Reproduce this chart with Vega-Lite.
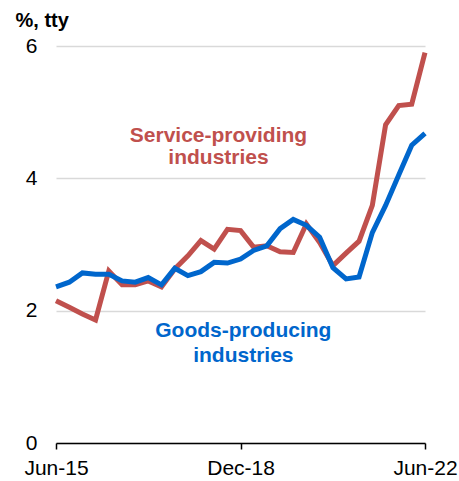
{
  "$schema": "https://vega.github.io/schema/vega-lite/v6.json",
  "width": 369,
  "height": 397,
  "autosize": {"type": "none"},
  "padding": {"left": 56, "top": 46, "right": 34, "bottom": 38},
  "background": "white",
  "config": {
    "view": {"stroke": null},
    "font": "Liberation Sans"
  },
  "datasets": {
    "series": [
      {"date": "2015-06-01", "series": "Service", "value": 2.15},
      {"date": "2015-09-01", "series": "Service", "value": 2.05},
      {"date": "2015-12-01", "series": "Service", "value": 1.95},
      {"date": "2016-03-01", "series": "Service", "value": 1.86},
      {"date": "2016-06-01", "series": "Service", "value": 2.6},
      {"date": "2016-09-01", "series": "Service", "value": 2.39},
      {"date": "2016-12-01", "series": "Service", "value": 2.39},
      {"date": "2017-03-01", "series": "Service", "value": 2.45},
      {"date": "2017-06-01", "series": "Service", "value": 2.36},
      {"date": "2017-09-01", "series": "Service", "value": 2.63},
      {"date": "2017-12-01", "series": "Service", "value": 2.83},
      {"date": "2018-03-01", "series": "Service", "value": 3.06},
      {"date": "2018-06-01", "series": "Service", "value": 2.93},
      {"date": "2018-09-01", "series": "Service", "value": 3.23},
      {"date": "2018-12-01", "series": "Service", "value": 3.21},
      {"date": "2019-03-01", "series": "Service", "value": 2.96},
      {"date": "2019-06-01", "series": "Service", "value": 2.98},
      {"date": "2019-09-01", "series": "Service", "value": 2.89},
      {"date": "2019-12-01", "series": "Service", "value": 2.88},
      {"date": "2020-03-01", "series": "Service", "value": 3.31},
      {"date": "2020-06-01", "series": "Service", "value": 3.03},
      {"date": "2020-09-01", "series": "Service", "value": 2.68},
      {"date": "2020-12-01", "series": "Service", "value": 2.87},
      {"date": "2021-03-01", "series": "Service", "value": 3.05},
      {"date": "2021-06-01", "series": "Service", "value": 3.59},
      {"date": "2021-09-01", "series": "Service", "value": 4.81},
      {"date": "2021-12-01", "series": "Service", "value": 5.1},
      {"date": "2022-03-01", "series": "Service", "value": 5.12},
      {"date": "2022-06-01", "series": "Service", "value": 5.9},
      {"date": "2015-06-01", "series": "Goods", "value": 2.36},
      {"date": "2015-09-01", "series": "Goods", "value": 2.43},
      {"date": "2015-12-01", "series": "Goods", "value": 2.57},
      {"date": "2016-03-01", "series": "Goods", "value": 2.55},
      {"date": "2016-06-01", "series": "Goods", "value": 2.55},
      {"date": "2016-09-01", "series": "Goods", "value": 2.45},
      {"date": "2016-12-01", "series": "Goods", "value": 2.43},
      {"date": "2017-03-01", "series": "Goods", "value": 2.5},
      {"date": "2017-06-01", "series": "Goods", "value": 2.39},
      {"date": "2017-09-01", "series": "Goods", "value": 2.64},
      {"date": "2017-12-01", "series": "Goods", "value": 2.53},
      {"date": "2018-03-01", "series": "Goods", "value": 2.59},
      {"date": "2018-06-01", "series": "Goods", "value": 2.73},
      {"date": "2018-09-01", "series": "Goods", "value": 2.72},
      {"date": "2018-12-01", "series": "Goods", "value": 2.78},
      {"date": "2019-03-01", "series": "Goods", "value": 2.91},
      {"date": "2019-06-01", "series": "Goods", "value": 2.98},
      {"date": "2019-09-01", "series": "Goods", "value": 3.24},
      {"date": "2019-12-01", "series": "Goods", "value": 3.38},
      {"date": "2020-03-01", "series": "Goods", "value": 3.29},
      {"date": "2020-06-01", "series": "Goods", "value": 3.11},
      {"date": "2020-09-01", "series": "Goods", "value": 2.65},
      {"date": "2020-12-01", "series": "Goods", "value": 2.48},
      {"date": "2021-03-01", "series": "Goods", "value": 2.51},
      {"date": "2021-06-01", "series": "Goods", "value": 3.18},
      {"date": "2021-09-01", "series": "Goods", "value": 3.59},
      {"date": "2021-12-01", "series": "Goods", "value": 4.05},
      {"date": "2022-03-01", "series": "Goods", "value": 4.5},
      {"date": "2022-06-01", "series": "Goods", "value": 4.68}
    ],
    "labels": [
      {"date": "2018-07-01", "value": 4.64, "text": "Service-providing", "series": "Service"},
      {"date": "2018-07-01", "value": 4.31, "text": "industries", "series": "Service"},
      {"date": "2018-12-20", "value": 1.7, "text": "Goods-producing", "series": "Goods"},
      {"date": "2018-12-20", "value": 1.31, "text": "industries", "series": "Goods"}
    ]
  },
  "layer": [
    {
      "data": {"name": "series"},
      "mark": {"type": "line", "strokeWidth": 5, "strokeJoin": "miter", "strokeCap": "butt"},
      "encoding": {
        "x": {
          "field": "date",
          "type": "temporal",
          "scale": {"type": "utc", "domain": [{"year": 2015, "month": 6, "date": 1, "utc": true}, {"year": 2022, "month": 6, "date": 1, "utc": true}]},
          "axis": {
            "title": null,
            "values": [
              {"year": 2015, "month": 6, "date": 1, "utc": true},
              {"year": 2018, "month": 12, "date": 1, "utc": true},
              {"year": 2022, "month": 6, "date": 1, "utc": true}
            ],
            "format": "%b-%y",
            "grid": false,
            "domainColor": "#000000",
            "domainWidth": 1.5,
            "tickColor": "#000000",
            "tickWidth": 1.5,
            "tickSize": 6,
            "labelFontSize": 21,
            "labelColor": "#000000",
            "labelPadding": 8,
            "labelFlush": false,
            "labelOverlap": false
          }
        },
        "y": {
          "field": "value",
          "type": "quantitative",
          "scale": {"domain": [0, 6], "nice": false},
          "axis": {
            "values": [0, 2, 4, 6],
            "format": "d",
            "title": "%, tty",
            "titleAngle": 0,
            "titleAlign": "left",
            "titleBaseline": "middle",
            "titleX": -41,
            "titleY": -26,
            "titleFontSize": 20,
            "titleFontWeight": "bold",
            "titleColor": "#000000",
            "domain": false,
            "ticks": false,
            "grid": true,
            "gridColor": "#D9D9D9",
            "gridWidth": 1.5,
            "labelFontSize": 21,
            "labelColor": "#000000",
            "labelPadding": 19,
            "labelAlign": "right"
          }
        },
        "color": {
          "field": "series",
          "type": "nominal",
          "scale": {"domain": ["Service", "Goods"], "range": ["#C0504D", "#0066CC"]},
          "legend": null
        }
      }
    },
    {
      "data": {"name": "labels"},
      "mark": {"type": "text", "fontSize": 21, "fontWeight": "bold", "align": "center", "baseline": "middle"},
      "encoding": {
        "x": {"field": "date", "type": "temporal"},
        "y": {"field": "value", "type": "quantitative"},
        "text": {"field": "text"},
        "color": {"field": "series", "type": "nominal", "legend": null}
      }
    }
  ]
}
